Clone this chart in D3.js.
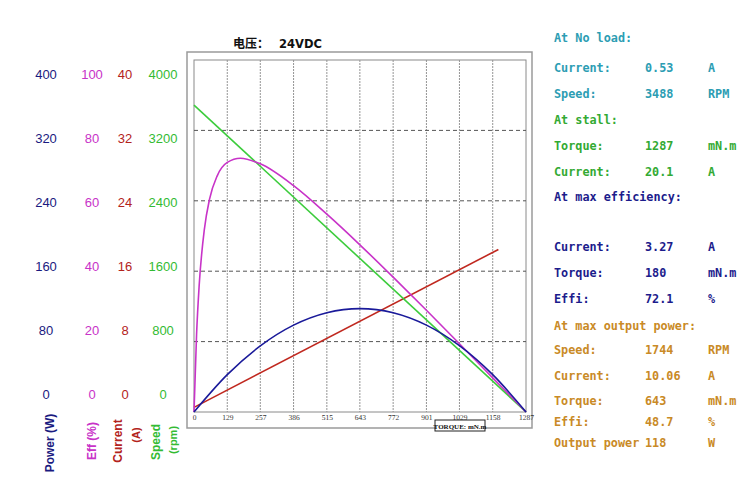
<!DOCTYPE html>
<html><head><meta charset="utf-8">
<script src="https://cdn.jsdelivr.net/npm/d3@7"></script>
<style>body{margin:0;background:#fff;}svg{display:block;}</style>
</head><body><svg id="c" width="750" height="485"></svg>
<script>
// ---- data ----
const xTicks = [0,129,257,386,515,643,772,901,1029,1158,1287];
const speedTorque = [0,1287];
const speedRpm = [3488,0];
const currentTorque = [0,1180];
const currentA = [0.53,18.47];
const powerTorque = [0,129,257,386,515,643,772,901,1029,1158,1287];
const powerW = [0,42.4,75.1,98.7,112.8,117.5,112.8,98.7,75.4,42.4,0];
const effTorque = [0,10,20,40,60,90,129,180,257,386,515,643,772,901,1029,1158,1287];
const effPct = [0,22.1,35.9,51.8,60.4,67.1,70.9,72.1,70.5,64.3,56.2,47.5,38.3,28.9,19.4,9.7,0];
const powerTicks = [0,80,160,240,320,400];
const effTicks = [0,20,40,60,80,100];
const currentTicks = [0,8,16,24,32,40];
const speedTicks = [0,800,1600,2400,3200,4000];
const gridPower = [80,160,240,320];
const infoRows = [
  ["At No load:","","",'#2c9db3'],
  ["Current:","0.53","A",'#2c9db3'],
  ["Speed:","3488","RPM",'#2c9db3'],
  ["At stall:","","",'#33aa33'],
  ["Torque:","1287","mN.m",'#33aa33'],
  ["Current:","20.1","A",'#33aa33'],
  ["At max efficiency:","","",'#1c1c8c'],
  ["Current:","3.27","A",'#1c1c8c'],
  ["Torque:","180","mN.m",'#1c1c8c'],
  ["Effi:","72.1","%",'#1c1c8c'],
  ["At max output power:","","",'#c98a26'],
  ["Speed:","1744","RPM",'#c98a26'],
  ["Current:","10.06","A",'#c98a26'],
  ["Torque:","643","mN.m",'#c98a26'],
  ["Effi:","48.7","%",'#c98a26'],
  ["Output power","118","W",'#c98a26']
];
const infoY = [38,68,94,120,146,172,197,247,273,299,326,350,376,401,422,443];

// ---- scales ----
const svg = d3.select('#c');
const x = d3.scaleLinear().domain([0,1287]).range([194,526]);
const yP = d3.scaleLinear().domain([0,400]).range([412,60]);
const yE = d3.scaleLinear().domain([0,100]).range([412,60]);
const yC = d3.scaleLinear().domain([0,40]).range([412,60]);
const yS = d3.scaleLinear().domain([0,4000]).range([412,60]);
const yLab = d3.scaleLinear().domain([0,400]).range([394,74]);

// outer frame
svg.append('rect').attr('x',187).attr('y',52).attr('width',345).attr('height',376)
  .attr('fill','#fff').attr('stroke','#9a9a9a').attr('stroke-width',1.5);
// inner plot
svg.append('rect').attr('x',x(0)).attr('y',yP(400)).attr('width',x(1287)-x(0)).attr('height',yP(0)-yP(400))
  .attr('fill','#fff').attr('stroke','#8a8a8a').attr('stroke-width',1);

// vertical grid
svg.append('g').selectAll('line').data(xTicks.slice(1,-1)).join('line')
  .attr('x1',d=>x(d)).attr('x2',d=>x(d)).attr('y1',yP(400)).attr('y2',yP(0))
  .attr('stroke','#959595').attr('stroke-width',1).attr('stroke-dasharray','2,1');
// horizontal dashed grid
svg.append('g').selectAll('line').data(gridPower).join('line')
  .attr('x1',x(0)).attr('x2',x(1287)).attr('y1',d=>yP(d)).attr('y2',d=>yP(d))
  .attr('stroke','#555').attr('stroke-width',1).attr('stroke-dasharray','4,3');

// x axis
const xa = svg.append('g').attr('transform',`translate(0,${yP(0)})`).attr('color','#333')
  .call(d3.axisBottom(x).tickValues(xTicks).tickSize(0).tickPadding(3).tickFormat(d=>String(d)));
xa.select('.domain').remove();
xa.selectAll('text').attr('font-family','Liberation Serif, serif').attr('font-size',7.5).attr('fill','#333')
  .style('text-rendering','geometricPrecision');

// torque label box
svg.append('rect').attr('x',435).attr('y',420).attr('width',50).attr('height',11)
  .attr('fill','#fff').attr('stroke','#222').attr('stroke-width',1);
svg.append('text').attr('x',460).attr('y',428.5).attr('text-anchor','middle')
  .attr('font-family','Liberation Serif, serif').attr('font-size',7).attr('font-weight','bold').attr('fill','#111')
  .text('TORQUE: mN.m');

// curves
const line = (xs, ys, ysc) => d3.line().curve(d3.curveMonotoneX)
  .x((d,i)=>x(xs[i])).y((d,i)=>ysc(ys[i]))(xs);
svg.append('path').attr('d',line(currentTorque,currentA,yC)).attr('fill','none').attr('stroke','#c0281f').attr('stroke-width',1.6);
svg.append('path').attr('d',line(speedTorque,speedRpm,yS)).attr('fill','none').attr('stroke','#3ccc3c').attr('stroke-width',1.6);
svg.append('path').attr('d',line(effTorque,effPct,yE)).attr('fill','none').attr('stroke','#c833c8').attr('stroke-width',1.6);
svg.append('path').attr('d',line(powerTorque,powerW,yP)).attr('fill','none').attr('stroke','#1a1a9a').attr('stroke-width',1.6);

// title
svg.append('text').attr('x',233).attr('y',48).attr('font-family','Noto Sans CJK SC, sans-serif')
  .attr('font-size',12).attr('font-weight','bold').attr('fill','#111').text('电压：');
svg.append('text').attr('x',279).attr('y',48).attr('font-family','DejaVu Sans, sans-serif')
  .attr('font-size',11.5).attr('font-weight','bold').attr('fill','#111').text('24VDC');

// left value axes
function leftAxis(cx, ticks, color, scaleMax){
  const s = d3.scaleLinear().domain([0,scaleMax]).range([yLab(0),yLab(400)]);
  const g = svg.append('g').attr('transform',`translate(${cx},0)`)
    .call(d3.axisRight(s).tickValues(ticks).tickSize(0).tickPadding(0).tickFormat(d=>String(d)));
  g.select('.domain').remove();
  g.selectAll('text').attr('text-anchor','middle').attr('x',0).attr('dy','0.35em')
    .attr('font-family','Liberation Sans, Arial, sans-serif').attr('font-size',13).attr('fill',color);
}
leftAxis(46, powerTicks, '#1a1a80', 400);
leftAxis(92, effTicks, '#c833c8', 100);
leftAxis(125, currentTicks, '#b3231c', 40);
leftAxis(163, speedTicks, '#33bb33', 4000);

// rotated axis titles
function vtext(cx, cy, txt, color, size){
  svg.append('text').attr('transform',`translate(${cx},${cy}) rotate(-90)`)
    .attr('text-anchor','middle').attr('dy','0.35em')
    .attr('font-family','Liberation Sans, Arial, sans-serif').attr('font-size',size).attr('font-weight','bold')
    .attr('fill',color).text(txt);
}
vtext(50, 443, 'Power (W)', '#1a1a80', 12);
vtext(92, 441, 'Eff (%)', '#c833c8', 12);
vtext(118, 441, 'Current', '#b3231c', 12);
vtext(136, 435, '(A)', '#b3231c', 11);
vtext(156, 442, 'Speed', '#33bb33', 12);
vtext(173, 440, '(rpm)', '#33bb33', 11);

// info panel
const info = svg.append('g').attr('font-family','DejaVu Sans Mono, monospace').attr('font-size',11.8).attr('font-weight','bold');
infoRows.forEach((r,i)=>{
  const y = infoY[i];
  info.append('text').attr('x',554).attr('y',y).attr('dy','0.35em').attr('fill',r[3]).text(r[0]);
  if(r[1]) info.append('text').attr('x',645).attr('y',y).attr('dy','0.35em').attr('fill',r[3]).text(r[1]);
  if(r[2]) info.append('text').attr('x',708).attr('y',y).attr('dy','0.35em').attr('fill',r[3]).text(r[2]);
});
</script></body></html>
